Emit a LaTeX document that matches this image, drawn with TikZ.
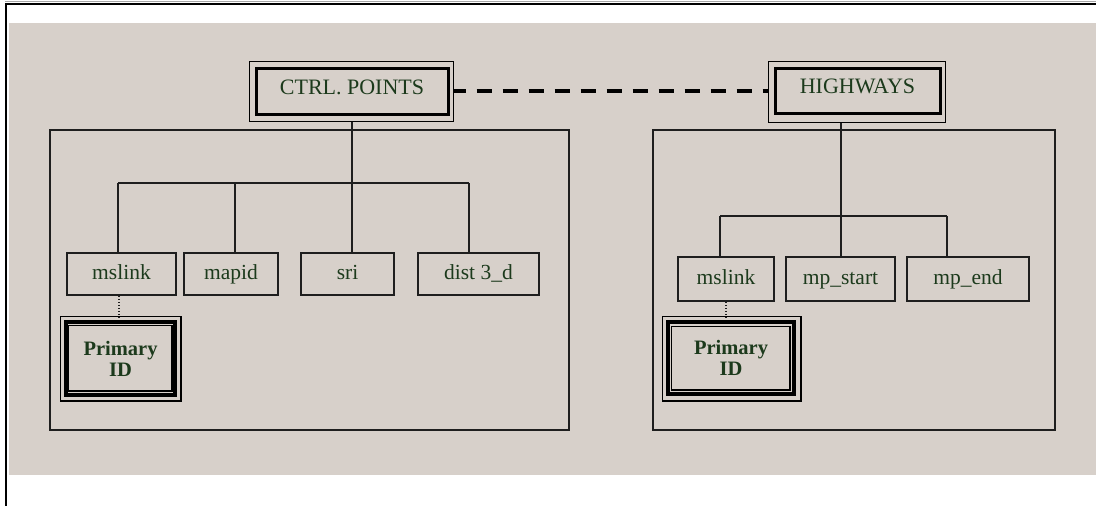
\documentclass[tikz,border=0pt]{standalone}
\usepackage{fontspec}
\setmainfont{Liberation Serif}
\definecolor{paper}{RGB}{215,208,202}
\definecolor{ink}{RGB}{28,58,28}
\definecolor{linec}{RGB}{30,30,30}
\newcommand\ttlfont{\fontsize{22}{26}\selectfont}
\newcommand\fldfont{\fontsize{21.5}{24}\selectfont}
\newcommand\pkfont{\fontsize{20.5}{21}\selectfont\bfseries}
\tikzset{
  panel/.style={draw=linec, line width=1.8pt, inner sep=0pt},
  field/.style={draw=linec, line width=1.8pt, inner sep=0pt, font=\fldfont, text=ink,
                text height=15pt, text depth=5pt},
  entity/.style={draw=black, line width=3pt, inner sep=0pt, font=\ttlfont, text=ink,
                 text depth=8pt},
  keybox/.style={draw=black, line width=3.5pt, inner sep=0pt, font=\pkfont, text=ink,
                 align=center},
  rim/.style={draw=black, line width=1.5pt},
  tree/.style={draw=linec, line width=1.6pt},
  keylink/.style={draw=linec, line width=1.2pt, dash pattern=on 1.5pt off 1.5pt},
  relation/.style={draw=black, line width=3.5pt, dash pattern=on 15pt off 11pt, dash phase=3pt}
}
\begin{document}
\begin{tikzpicture}[x=1pt,y=-1pt]
\useasboundingbox (0,0) rectangle (1096,506);
\fill[white] (0,0) rectangle (1096,506);
\fill[paper] (9,23) rectangle (1096,475);
\draw[black!35, line width=1pt] (5,1.5) -- (1096,1.5);
\draw[black, line width=2.5pt] (6,506) -- (6,4) -- (1096,4);

% table panels
\node[panel, minimum width=519pt, minimum height=300pt] (lpanel) at (309.5,280) {};
\node[panel, minimum width=402pt, minimum height=300pt] (rpanel) at (854,280) {};

% entity headers
\node[entity, minimum width=192pt, minimum height=46pt] (ctrl) at (352,91) {CTRL. POINTS};
\node[entity, minimum width=165pt, minimum height=45pt] (hwy) at (857.5,90.5) {HIGHWAYS};
\draw[rim] ([shift={(-5,-5)}]ctrl.north west) rectangle ([shift={(4,6)}]ctrl.south east);
\draw[rim] ([shift={(-5,-5)}]hwy.north west) rectangle ([shift={(4,8)}]hwy.south east);

% relation between the two entities
\coordinate (ctrlR) at ([xshift=4pt]ctrl.east);
\coordinate (hwyL) at ([xshift=-5pt]hwy.west);
\draw[relation] (ctrlR) -- (ctrlR -| hwyL);

% fields of CTRL. POINTS
\node[field, minimum width=109pt, minimum height=42pt] (c1) at (121.5,274) {mslink};
\node[field, minimum width=94pt,  minimum height=42pt] (c2) at (231,274) {mapid};
\node[field, minimum width=93pt,  minimum height=42pt] (c3) at (347.5,274) {sri};
\node[field, minimum width=121pt, minimum height=42pt] (c4) at (478.5,274) {dist 3\_d};

% fields of HIGHWAYS
\node[field, minimum width=96pt,  minimum height=44pt] (h1) at (726,279) {mslink};
\node[field, minimum width=109pt, minimum height=44pt] (h2) at (840.5,279) {mp\_start};
\node[field, minimum width=122pt, minimum height=44pt] (h3) at (968,279) {mp\_end};

% tree of CTRL. POINTS
\coordinate (cb1) at (118,183);
\coordinate (cb2) at (235,183);
\coordinate (cb3) at (352,183);
\coordinate (cb4) at (469,183);
\draw[tree] ([shift={(0,6)}]ctrl.south) -- (cb3);
\draw[tree] (cb1) -- (cb4);
\draw[tree] (cb1) -- (cb1 |- c1.north);
\draw[tree] (cb2) -- (cb2 |- c2.north);
\draw[tree] (cb3) -- (cb3 |- c3.north);
\draw[tree] (cb4) -- (cb4 |- c4.north);

% tree of HIGHWAYS
\coordinate (hb1) at (720,216);
\coordinate (hb2) at (841,216);
\coordinate (hb3) at (947,216);
\draw[tree] ([shift={(-16.5,8)}]hwy.south) -- (hb2);
\draw[tree] (hb1) -- (hb3);
\draw[tree] (hb1) -- (hb1 |- h1.north);
\draw[tree] (hb2) -- (hb2 |- h2.north);
\draw[tree] (hb3) -- (hb3 |- h3.north);

% primary keys
\node[keybox, minimum width=109pt, minimum height=73pt] (pk1) at (120.5,358.5) {Primary\\ID};
\node[keybox, minimum width=126pt, minimum height=72pt] (pk2) at (731,358) {Primary\\ID};
\draw[rim] ([shift={(-4,-4)}]pk1.north west) rectangle ([shift={(4,4)}]pk1.south east);
\draw[rim] ([shift={(4,5)}]pk1.north west) rectangle ([shift={(-5,-6)}]pk1.south east);
\draw[rim] ([shift={(-4,-4)}]pk2.north west) rectangle ([shift={(5,5)}]pk2.south east);
\draw[rim] ([shift={(5,6)}]pk2.north west) rectangle ([shift={(-6,-6)}]pk2.south east);

\coordinate (k1) at (119,318);
\coordinate (k2) at (726,318);
\draw[keylink] (k1 |- c1.south) -- (k1);
\draw[keylink] (k2 |- h1.south) -- (k2);
\end{tikzpicture}
\end{document}
